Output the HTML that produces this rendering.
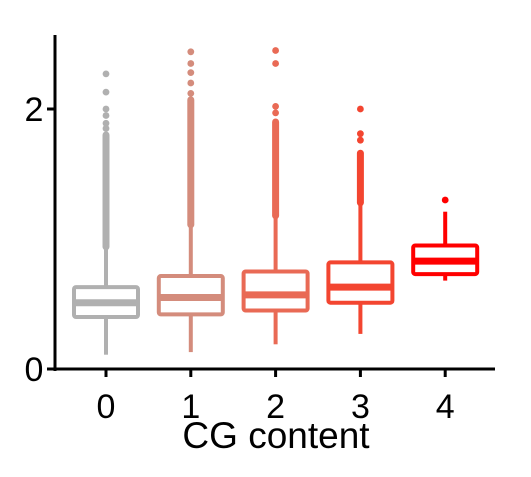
<!DOCTYPE html>
<html><head><meta charset="utf-8"><style>
html,body{margin:0;padding:0;background:#fff;}
text{font-family:"Liberation Sans",sans-serif;}
</style></head><body>
<svg id="chart" width="531" height="472" xmlns="http://www.w3.org/2000/svg"></svg>
<script>
const categories=["0","1","2","3","4"];
const colors=["#b0b0b0","#d48c7c","#e96a55","#f34530","#ff0000"];
const q1=[0.40,0.42,0.45,0.51,0.73];
const medians=[0.51,0.55,0.57,0.63,0.83];
const q3=[0.63,0.715,0.75,0.82,0.95];
const whiskLow=[0.11,0.13,0.19,0.27,0.68];
const whiskHigh=[0.94,1.11,1.18,1.28,1.21];
const denseTop=[1.8,2.07,1.9,1.66,1.21];
const sparseOutliers=[[1.85,1.89,1.95,2.0,2.13,2.27],[2.12,2.2,2.28,2.35,2.44],[1.97,2.02,2.35,2.45],[1.76,1.81,2.0],[1.3]];
const yTicks=[0,2];
const NS="http://www.w3.org/2000/svg";
const svg=document.getElementById('chart');
function y(v){return 369-130*v;}
function x(i){return 106+i*84.8;}
function mk(t,a,p){const e=document.createElementNS(NS,t);for(const k in a)e.setAttribute(k,a[k]);(p||svg).appendChild(e);return e;}
let ya=mk('line',{x1:55,y1:35,x2:55,y2:371,stroke:'#000','stroke-width':3});


let xa=mk('line',{x1:53.5,y1:369,x2:495,y2:369,stroke:'#000','stroke-width':3});


yTicks.forEach(v=>{
  mk('line',{x1:47,y1:y(v),x2:55,y2:y(v),stroke:'#000','stroke-width':3});
  const t=mk('text',{x:34,y:y(v)+12,'font-size':34,'text-anchor':'middle',fill:'#000'});
  t.textContent=v;
  
  
});
categories.forEach((c,i)=>{
  const cx=x(i),col=colors[i];
  mk('line',{x1:cx,y1:369,x2:cx,y2:377,stroke:'#000','stroke-width':3});
  const t=mk('text',{x:cx,y:418,'font-size':34,'text-anchor':'middle',fill:'#000'});
  t.textContent=c;
  
  
  const g=mk('g',{});
  
  
  mk('line',{x1:cx,y1:y(whiskLow[i]),x2:cx,y2:y(q1[i]),stroke:col,'stroke-width':4},g);
  mk('line',{x1:cx,y1:y(q3[i]),x2:cx,y2:y(whiskHigh[i]),stroke:col,'stroke-width':4},g);
  if(denseTop[i]>whiskHigh[i]) mk('line',{x1:cx,y1:y(whiskHigh[i]),x2:cx,y2:y(denseTop[i]),stroke:col,'stroke-width':7,'stroke-linecap':'round'},g);
  sparseOutliers[i].forEach(v=>mk('circle',{cx:cx,cy:y(v),r:3.4,fill:col},g));
  mk('rect',{x:cx-32,y:y(q3[i]),width:64,height:y(q1[i])-y(q3[i]),fill:'#fff',stroke:col,'stroke-width':4,rx:2},g);
  mk('line',{x1:cx-32,y1:y(medians[i]),x2:cx+32,y2:y(medians[i]),stroke:col,'stroke-width':7},g);
});
const xt=mk('text',{x:276,y:448,'font-size':37,'text-anchor':'middle',fill:'#000'});
xt.textContent='CG content';


</script>
</body></html>
